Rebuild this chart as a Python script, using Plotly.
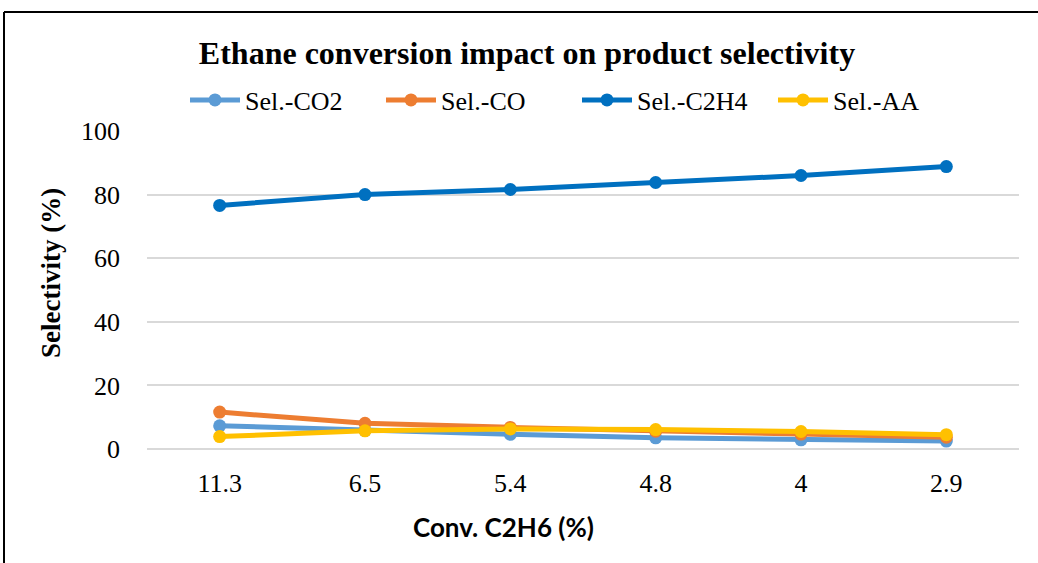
import plotly.graph_objects as go

categories = ["11.3", "6.5", "5.4", "4.8", "4", "2.9"]
sel_co2 = [7.3, 5.8, 4.6, 3.5, 2.9, 2.5]
sel_co = [11.6, 8.1, 6.8, 5.6, 4.7, 3.7]
sel_c2h4 = [76.6, 80.0, 81.6, 83.8, 86.0, 88.8]
sel_aa = [3.9, 5.7, 6.3, 6.1, 5.5, 4.5]
series_names = ["Sel.-CO2", "Sel.-CO", "Sel.-C2H4", "Sel.-AA"]
series_colors = ["#5B9BD5", "#ED7D31", "#0070C0", "#FFC000"]
y_ticks = [0, 20, 40, 60, 80, 100]

W, H = 1038, 563
L, R, T, B = 147, 19, 131, 114
pw, ph = W - L - R, H - T - B


def px_x(p):
    return (p - L) / pw


def px_y(p):
    return (H - B - p) / ph


serif = "Liberation Serif, Times New Roman, serif"

fig = go.Figure()
for name, vals, col in zip(series_names, [sel_co2, sel_co, sel_c2h4, sel_aa], series_colors):
    fig.add_trace(go.Scatter(
        x=categories, y=vals, name=name, mode="lines+markers",
        line=dict(color=col, width=5),
        marker=dict(color=col, size=13),
    ))

fig.update_layout(
    width=W, height=H,
    margin=dict(l=L, r=R, t=T, b=B, autoexpand=False),
    paper_bgcolor="white", plot_bgcolor="white",
    title=dict(text="<b>Ethane conversion impact on product selectivity</b>",
               x=527 / W, xanchor="center", y=1 - 53 / H, yanchor="middle",
               font=dict(family=serif, size=32, color="black")),
    legend=dict(orientation="h", x=px_x(185), xanchor="left",
                y=px_y(100), yanchor="middle",
                font=dict(family=serif, size=26, color="black"),
                bgcolor="rgba(0,0,0,0)", itemwidth=50,
                entrywidth=131, entrywidthmode="pixels"),
    showlegend=True,
)
fig.update_xaxes(type="category", range=[-0.5, 5.5], showgrid=False, showline=False,
                 zeroline=False, ticks="", ticklabelstandoff=16,
                 tickfont=dict(family=serif, size=26, color="black"))
fig.update_yaxes(range=[0, 100], tickvals=y_ticks, showgrid=True, gridcolor="#D9D9D9",
                 gridwidth=1.5, zeroline=True, zerolinecolor="#D9D9D9", zerolinewidth=1.5,
                 showline=False, ticks="", ticklabelstandoff=26,
                 tickfont=dict(family=serif, size=26, color="black"))

fig.add_annotation(text="<b>Selectivity (%)</b>", xref="paper", yref="paper",
                   x=px_x(51), y=px_y(273), xanchor="center", yanchor="middle",
                   textangle=-90, showarrow=False,
                   font=dict(family=serif, size=27, color="black"))
fig.add_annotation(text="<b>Conv. C2H6 (%)</b>", xref="paper", yref="paper",
                   x=px_x(503), y=px_y(527), xanchor="center", yanchor="middle",
                   showarrow=False,
                   font=dict(family="Lato, Open Sans, sans-serif", size=26, color="black"))

# chart frame (top and left edges visible)
fig.add_shape(type="line", xref="paper", yref="paper", x0=px_x(4), x1=px_x(1045),
              y0=px_y(12), y1=px_y(12), line=dict(color="black", width=2))
fig.add_shape(type="line", xref="paper", yref="paper", x0=px_x(4), x1=px_x(4),
              y0=px_y(12), y1=px_y(570), line=dict(color="black", width=2))

fig.write_html("out.html")
